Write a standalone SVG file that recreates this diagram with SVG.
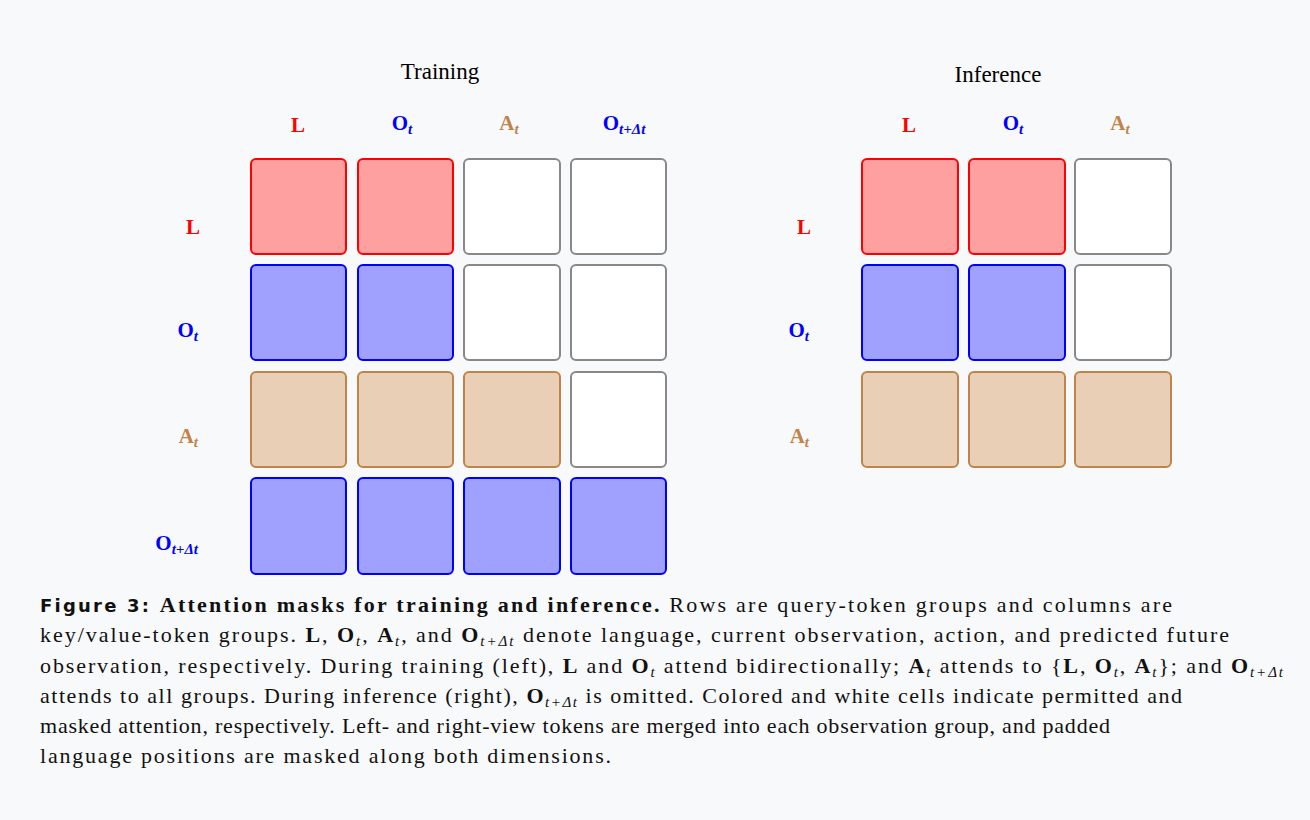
<svg xmlns="http://www.w3.org/2000/svg" width="1310" height="820" viewBox="0 0 1310 820">
<style>
text{font-family:"Liberation Serif","DejaVu Serif",serif;}
.t{font-size:23px;fill:#000;text-anchor:middle}
.lb{font-size:21px;font-weight:bold;text-anchor:middle}
.rl{text-anchor:end}
.s{font-size:15px;font-style:italic}
.red{fill:#ff0000}.blu{fill:#0000ff}.tan{fill:#c0844a}
.cr{fill:#ffa0a0;stroke:#ff0000;stroke-width:2}
.cb{fill:#a0a0ff;stroke:#0000ff;stroke-width:2}
.ct{fill:#e8cfb5;stroke:#c0844a;stroke-width:2}
.cw{fill:#ffffff;stroke:#888888;stroke-width:2}
.cap{font-size:22px;fill:#111}
.b{font-weight:bold}
.sub{font-size:15px;font-style:italic}
</style>
<rect width="1310" height="820" fill="#f8f9fa"/>
<g id="training">
<text class="t" x="440" y="79">Training</text>
<text class="lb red" x="298" y="132">L</text>
<text class="lb blu" x="402" y="130">O<tspan class="s" dy="4">t</tspan></text>
<text class="lb tan" x="509" y="130">A<tspan class="s" dy="4">t</tspan></text>
<text class="lb blu" x="624" y="130">O<tspan class="s" dy="4">t+Δt</tspan></text>
<text class="lb red rl" x="200" y="234">L</text>
<text class="lb blu rl" x="198" y="337">O<tspan class="s" dy="4">t</tspan></text>
<text class="lb tan rl" x="198" y="443">A<tspan class="s" dy="4">t</tspan></text>
<text class="lb blu rl" x="198" y="550">O<tspan class="s" dy="4">t+Δt</tspan></text>
<rect class="cr" x="251" y="159" width="95" height="95" rx="5"/>
<rect class="cr" x="358" y="159" width="95" height="95" rx="5"/>
<rect class="cw" x="464" y="159" width="96" height="95" rx="5"/>
<rect class="cw" x="571" y="159" width="95" height="95" rx="5"/>
<rect class="cb" x="251" y="265" width="95" height="95" rx="5"/>
<rect class="cb" x="358" y="265" width="95" height="95" rx="5"/>
<rect class="cw" x="464" y="265" width="96" height="95" rx="5"/>
<rect class="cw" x="571" y="265" width="95" height="95" rx="5"/>
<rect class="ct" x="251" y="372" width="95" height="95" rx="5"/>
<rect class="ct" x="358" y="372" width="95" height="95" rx="5"/>
<rect class="ct" x="464" y="372" width="96" height="95" rx="5"/>
<rect class="cw" x="571" y="372" width="95" height="95" rx="5"/>
<rect class="cb" x="251" y="478" width="95" height="96" rx="5"/>
<rect class="cb" x="358" y="478" width="95" height="96" rx="5"/>
<rect class="cb" x="464" y="478" width="96" height="96" rx="5"/>
<rect class="cb" x="571" y="478" width="95" height="96" rx="5"/>
</g>
<g id="inference">
<text class="t" x="998" y="82">Inference</text>
<text class="lb red" x="909" y="132">L</text>
<text class="lb blu" x="1013" y="130">O<tspan class="s" dy="4">t</tspan></text>
<text class="lb tan" x="1120" y="130">A<tspan class="s" dy="4">t</tspan></text>
<text class="lb red rl" x="811" y="234">L</text>
<text class="lb blu rl" x="809" y="337">O<tspan class="s" dy="4">t</tspan></text>
<text class="lb tan rl" x="809" y="443">A<tspan class="s" dy="4">t</tspan></text>
<rect class="cr" x="862" y="159" width="96" height="95" rx="5"/>
<rect class="cr" x="969" y="159" width="96" height="95" rx="5"/>
<rect class="cw" x="1075" y="159" width="96" height="95" rx="5"/>
<rect class="cb" x="862" y="265" width="96" height="95" rx="5"/>
<rect class="cb" x="969" y="265" width="96" height="95" rx="5"/>
<rect class="cw" x="1075" y="265" width="96" height="95" rx="5"/>
<rect class="ct" x="862" y="372" width="96" height="95" rx="5"/>
<rect class="ct" x="969" y="372" width="96" height="95" rx="5"/>
<rect class="ct" x="1075" y="372" width="96" height="95" rx="5"/>
</g>
<g id="caption" class="cap">
<text x="40" y="612" textLength="1132" lengthAdjust="spacing"><tspan class="b" style="font-family:'DejaVu Sans',sans-serif;font-size:18px">Figure 3: </tspan><tspan class="b">Attention masks for training and inference.</tspan> Rows are query-token groups and columns are</text>
<text x="40" y="642" textLength="1189" lengthAdjust="spacing">key/value-token groups. <tspan class="b">L</tspan>, <tspan class="b">O</tspan><tspan class="sub" dy="4">t</tspan><tspan dy="-4">, </tspan><tspan class="b">A</tspan><tspan class="sub" dy="4">t</tspan><tspan dy="-4">, and </tspan><tspan class="b">O</tspan><tspan class="sub" dy="4">t+Δt</tspan><tspan dy="-4"> denote language, current observation, action, and predicted future</tspan></text>
<text x="40" y="673" textLength="1243" lengthAdjust="spacing">observation, respectively. During training (left), <tspan class="b">L</tspan> and <tspan class="b">O</tspan><tspan class="sub" dy="4">t</tspan><tspan dy="-4"> attend bidirectionally; </tspan><tspan class="b">A</tspan><tspan class="sub" dy="4">t</tspan><tspan dy="-4"> attends to {</tspan><tspan class="b">L</tspan>, <tspan class="b">O</tspan><tspan class="sub" dy="4">t</tspan><tspan dy="-4">, </tspan><tspan class="b">A</tspan><tspan class="sub" dy="4">t</tspan><tspan dy="-4">}; and </tspan><tspan class="b">O</tspan><tspan class="sub" dy="4">t+Δt</tspan></text>
<text x="40" y="703" textLength="1142" lengthAdjust="spacing">attends to all groups. During inference (right), <tspan class="b">O</tspan><tspan class="sub" dy="4">t+Δt</tspan><tspan dy="-4"> is omitted. Colored and white cells indicate permitted and</tspan></text>
<text x="40" y="733" textLength="1070" lengthAdjust="spacing">masked attention, respectively. Left- and right-view tokens are merged into each observation group, and padded</text>
<text x="40" y="763" textLength="571" lengthAdjust="spacing">language positions are masked along both dimensions.</text>
</g>
</svg>
